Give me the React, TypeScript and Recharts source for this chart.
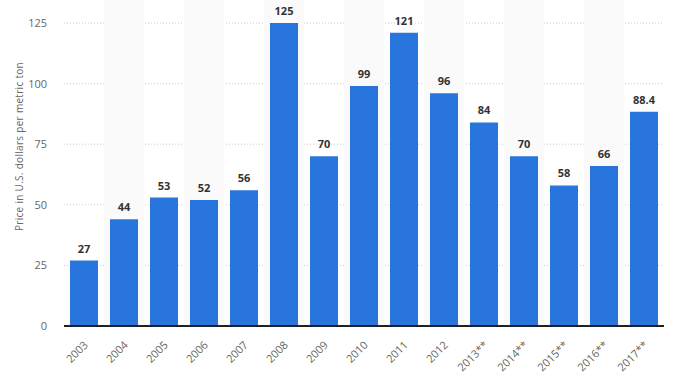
import React from 'react';
import { BarChart, Bar, XAxis, YAxis, CartesianGrid, LabelList, ReferenceArea } from 'recharts';

const categories = ['2003', '2004', '2005', '2006', '2007', '2008', '2009', '2010', '2011', '2012', '2013**', '2014**', '2015**', '2016**', '2017**'];
const prices = [27, 44, 53, 52, 56, 125, 70, 99, 121, 96, 84, 70, 58, 66, 88.4];
const yTicks = [0, 25, 50, 75, 100, 125];
const yLabel = 'Price in U.S. dollars per metric ton';

const data = categories.map((c, i) => ({ year: c, price: prices[i] }));
const shaded = categories.filter((_, i) => i % 2 === 1);

const FONT = '"Open Sans", Arial, sans-serif';

const XTick = (props: any) => {
  const { x, y, payload } = props;
  const cx = x + 2;
  const cy = y + 9;
  return (
    <g transform={`rotate(-45 ${cx} ${cy})`}>
      <text
        x={cx}
        y={cy}
        dy="0.35em"
        textAnchor="end"
        fill="#666"
        fontSize={11}
        fontFamily={FONT}
      >
        {payload.value}
      </text>
    </g>
  );
};

export default function App() {
  return (
    <div style={{ position: 'absolute', left: 0, top: 0 }}>
      <BarChart
        width={675}
        height={381}
        data={data}
        margin={{ top: 23, right: 11, bottom: 0, left: 0 }}
        barCategoryGap="15%"
      >
        {shaded.map((c) => (
          <ReferenceArea key={c} x1={c} x2={c} y1={0} y2={135} fill="#fafafa" fillOpacity={1} stroke="none" ifOverflow="visible" />
        ))}
        <CartesianGrid vertical={false} stroke="#cccccc" strokeDasharray="1 2" />
        <XAxis
          dataKey="year"
          interval={0}
          height={55}
          tickLine={false}
          axisLine={{ stroke: '#222', strokeWidth: 2 }}
          tick={XTick}
        />
        <YAxis
          width={64}
          domain={[0, 125]}
          ticks={yTicks}
          axisLine={false}
          tickLine={false}
          tickMargin={11}
          tick={{ fill: '#666', fontSize: 11, fontFamily: FONT }}
          label={{
            value: yLabel,
            angle: -90,
            position: 'insideLeft',
            dx: 14,
            dy: -28,
            style: { textAnchor: 'middle', fill: '#666', fontSize: 10, fontFamily: FONT, letterSpacing: 0.3 },
          }}
        />
        <Bar dataKey="price" fill="#2876dd" isAnimationActive={false}>
          <LabelList
            dataKey="price"
            position="top"
            offset={8}
            style={{ fill: '#333', fontSize: 11, fontWeight: 'bold', fontFamily: FONT }}
          />
        </Bar>
      </BarChart>
    </div>
  );
}
